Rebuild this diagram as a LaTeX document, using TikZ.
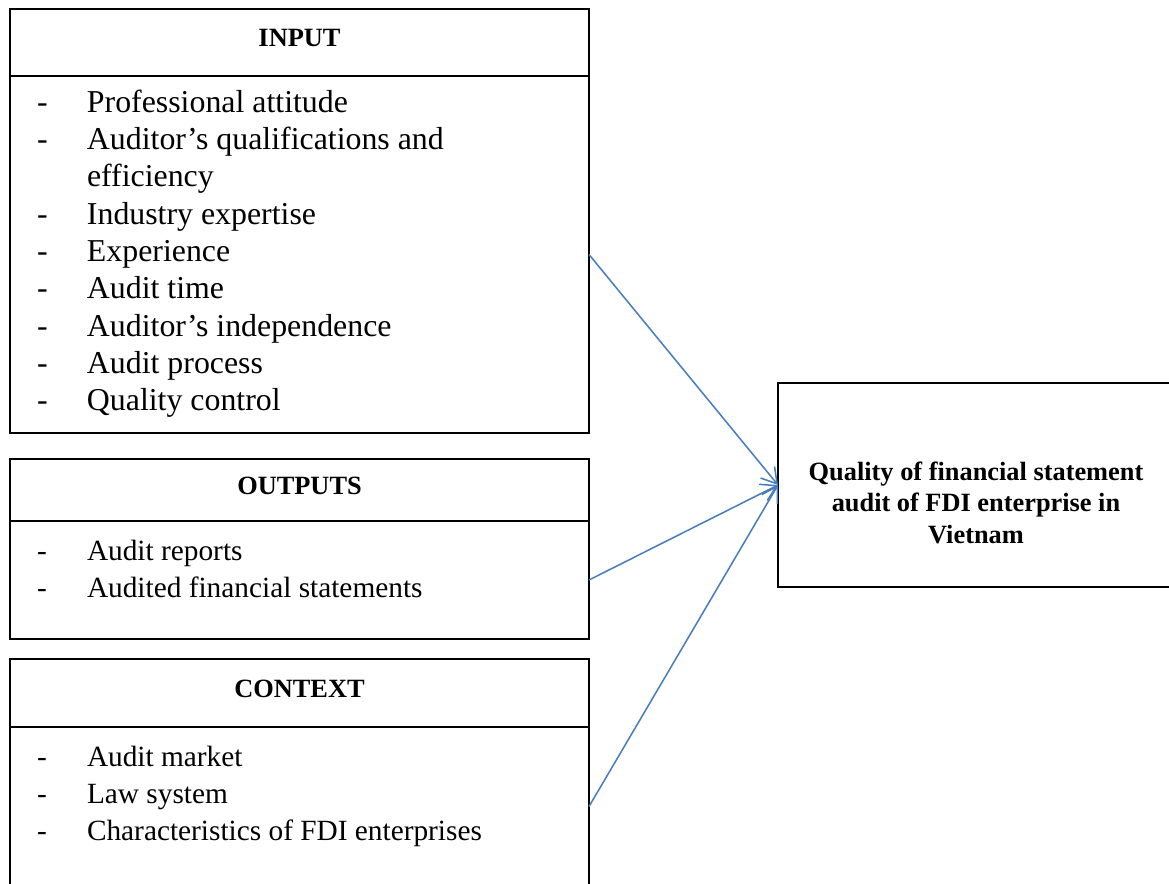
\documentclass[tikz,border=0pt]{standalone}
\usepackage{fontspec}
\setmainfont{Liberation Serif}
\usetikzlibrary{positioning, calc, arrows.meta}
\definecolor{linkblue}{RGB}{74,126,187}

\begin{document}
\begin{tikzpicture}[
    headbox/.style={draw, line width=0.6pt, outer sep=0pt, inner sep=0pt, minimum width=9.264cm, text depth=4pt, font=\fontsize{12}{14.3}\selectfont\bfseries},
    bodybox/.style={draw, line width=0.6pt, outer sep=0pt, inner sep=0pt, minimum width=9.264cm},
    itemlist/.style={inner sep=0pt, outer sep=0pt, font=\fontsize{13.35}{17.07}\selectfont},
    flow/.style={draw=linkblue, line width=0.7pt, -{Straight Barb[length=2.4mm, width=2.9mm]}}
]

    \useasboundingbox (0,0) rectangle (18.704,-14.144);

    \node[headbox, minimum height=1.072cm, anchor=north west] (input) at (0.16, -0.144) {INPUT};
    \node[bodybox, minimum height=5.712cm, below=0pt of input] (inputbody) {};
    \node[itemlist, font=\fontsize{14.5}{17.0}\selectfont, below right=0.16cm and 0.432cm of inputbody.north west] (inputitems) {%
        \begin{tabular}{@{}p{0.8cm}@{}l@{}}
            - & Professional attitude\\
            - & Auditor’s qualifications and\\
              & efficiency\\
            - & Industry expertise\\
            - & Experience\\
            - & Audit time\\
            - & Auditor’s independence\\
            - & Audit process\\
            - & Quality control
        \end{tabular}};

    \node[headbox, minimum height=0.992cm, anchor=north west] (outputs) at (0.16, -7.344) {OUTPUTS};
    \node[bodybox, minimum height=1.888cm, below=0pt of outputs] (outputsbody) {};
    \node[itemlist, below right=0.204cm and 0.432cm of outputsbody.north west] (outputsitems) {%
        \begin{tabular}{@{}p{0.8cm}@{}l@{}}
            - & Audit reports\\
            - & Audited financial statements
        \end{tabular}};

    \node[headbox, minimum height=1.088cm, anchor=north west] (context) at (0.16, -10.544) {CONTEXT};
    \node[bodybox, minimum height=2.544cm, below=0pt of context] (contextbody) {};
    \node[itemlist, below right=0.204cm and 0.432cm of contextbody.north west] (contextitems) {%
        \begin{tabular}{@{}p{0.8cm}@{}l@{}}
            - & Audit market\\
            - & Law system\\
            - & Characteristics of FDI enterprises
        \end{tabular}};

    \node[bodybox, minimum width=6.336cm, minimum height=3.264cm] (quality) at (15.616, -7.76) {};
    \node[align=center, font=\fontsize{12}{14.34}\selectfont\bfseries] (qualitytext) at (15.616, -8.04)
        {Quality of financial statement\\audit of FDI enterprise in\\Vietnam};

    \draw[flow] (inputbody.east) -- (quality.west);
    \draw[flow] (outputsbody.east) -- (quality.west);
    \draw[flow] (contextbody.east) -- (quality.west);

\end{tikzpicture}
\end{document}
